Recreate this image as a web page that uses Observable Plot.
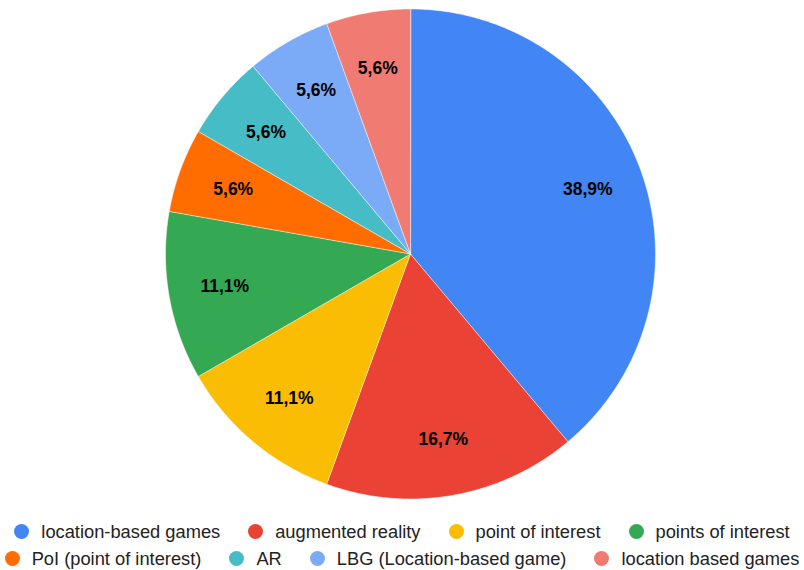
<!DOCTYPE html>
<html><head><meta charset="utf-8">
<script src="https://cdn.jsdelivr.net/npm/d3@7"></script>
<script src="https://cdn.jsdelivr.net/npm/@observablehq/plot@0.6"></script>
<style>
body{margin:0;background:#fff;font-family:Arial,"Liberation Sans",sans-serif;}
#chart svg{display:block;}
#legend{width:804px;display:flex;flex-direction:column;align-items:center;gap:6px;margin-top:15px;}
.row{display:flex;justify-content:center;gap:28px;}
.item{display:flex;align-items:center;gap:12px;font-size:18.3px;line-height:21px;color:#222;white-space:nowrap;}
.sw{width:15px;height:15px;border-radius:50%;display:inline-block;}
</style></head>
<body><div id="chart"></div><div id="legend"></div>
<script>
const categories = ["location-based games","augmented reality","point of interest","points of interest","PoI (point of interest)","AR","LBG (Location-based game)","location based games"];
const counts = [7,3,2,2,1,1,1,1];
const colors = ["#4285F4","#EA4335","#FBBC04","#34A853","#FF6D01","#46BDC6","#7BAAF7","#F07B72"];
const legendRows = [[0,1,2,3],[4,5,6,7]];

const total = d3.sum(counts);
const pie = d3.pie().sort(null).value(d => d.value)(categories.map((c,i)=>({cat:c, value:counts[i]})));
const pts = [];
const labels = [];
pie.forEach(a => {
  const n = Math.max(2, Math.ceil((a.endAngle - a.startAngle) / 0.01));
  pts.push({cat:a.data.cat, x:0, y:0});
  for (let k=0;k<=n;k++){
    const t = a.startAngle + (a.endAngle - a.startAngle)*k/n;
    pts.push({cat:a.data.cat, x:Math.sin(t), y:Math.cos(t)});
  }
  const m = (a.startAngle + a.endAngle)/2;
  labels.push({x:0.77*Math.sin(m), y:0.77*Math.cos(m), text:(a.data.value/total*100).toFixed(1).replace(".",",")+"%"});
});

const chart = Plot.plot({
  width:804, height:506,
  margin:0,
  x:{domain:[-1,1], range:[165,655], axis:null},
  y:{domain:[-1,1], range:[498.5,8.5], axis:null},
  color:{domain:categories, range:colors},
  marks:[
    Plot.line(pts, {x:"x", y:"y", z:"cat", fill:"cat", stroke:"white", strokeWidth:0.5, curve:"linear-closed"}),
    Plot.text(labels, {x:"x", y:"y", text:"text", fontSize:17.5, fontWeight:"bold", fill:"#000", fontFamily:"Arial, 'Liberation Sans', sans-serif"})
  ]
});
document.getElementById("chart").appendChild(chart);

const leg = document.getElementById("legend");
legendRows.forEach(r => {
  const row = document.createElement("div"); row.className="row";
  r.forEach(i => {
    const it = document.createElement("div"); it.className="item";
    it.innerHTML = `<span class="sw" style="background:${colors[i]}"></span><span>${categories[i]}</span>`;
    row.appendChild(it);
  });
  leg.appendChild(row);
});
</script></body></html>
